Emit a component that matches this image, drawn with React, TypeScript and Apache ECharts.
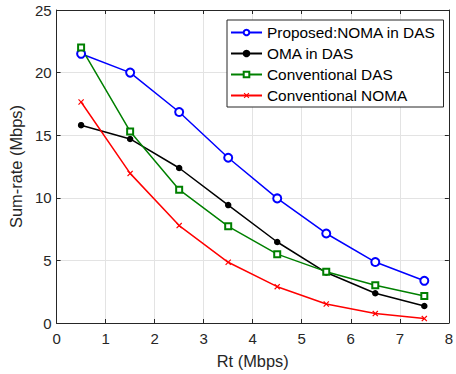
import React, { useEffect, useRef } from "react";
import * as echarts from "echarts";

const rtValues = [0.5, 1.5, 2.5, 3.5, 4.5, 5.5, 6.5, 7.5];
const proposedNomaDas = [21.5, 20.0, 16.85, 13.2, 9.95, 7.15, 4.87, 3.37];
const omaDas = [15.8, 14.7, 12.38, 9.42, 6.47, 4.03, 2.38, 1.36];
const conventionalDas = [22.0, 15.3, 10.65, 7.72, 5.5, 4.1, 3.02, 2.15];
const conventionalNoma = [17.65, 11.95, 7.78, 4.85, 2.9, 1.52, 0.75, 0.35];
const seriesNames = ["Proposed:NOMA in DAS", "OMA in DAS", "Conventional DAS", "Conventional NOMA"];

const FONT = "Liberation Sans, Arial, Helvetica, sans-serif";
const X_MARK = "path://M0,1.4L1.4,0L5,3.6L8.6,0L10,1.4L6.4,5L10,8.6L8.6,10L5,6.4L1.4,10L0,8.6L3.6,5Z";

function pairs(ys: number[]) {
  return rtValues.map((x, i) => [x, ys[i]]);
}

export default function App() {
  const ref = useRef<HTMLDivElement>(null);
  useEffect(() => {
    if (!ref.current) return;
    const chart = echarts.init(ref.current, undefined, { renderer: "svg" });
    const axisLine = { show: true, onZero: false, lineStyle: { color: "#262626", width: 1 } };
    const tick = { show: true, inside: true, length: 4, lineStyle: { color: "#262626" } };
    const mk = (name: string, data: number[], color: string, symbol: string, size: number, extra: any = {}) => ({
      name,
      type: "line",
      data: pairs(data),
      symbol,
      symbolSize: size,
      showSymbol: true,
      lineStyle: { color, width: 1.5 },
      itemStyle: { color, borderColor: color, borderWidth: 1.5, ...extra },
      emphasis: { disabled: true },
      z: 3,
    });
    chart.setOption({
      animation: false,
      backgroundColor: "#ffffff",
      textStyle: { fontFamily: FONT },
      grid: { left: 50, right: 3, top: 10, bottom: 51, containLabel: false },
      legend: {
        orient: "vertical",
        left: 227,
        top: 20,
        padding: [5, 8, 4, 3],
        itemGap: 6,
        itemWidth: 31,
        itemHeight: 7,
        backgroundColor: "#ffffff",
        borderColor: "#262626",
        borderWidth: 1,
        borderRadius: 0,
        textStyle: { fontSize: 15.4, color: "#000", fontFamily: FONT },
        data: seriesNames,
      },
      xAxis: [
        {
          type: "value",
          min: 0,
          max: 8,
          interval: 1,
          name: "Rt (Mbps)",
          nameLocation: "middle",
          nameGap: 30,
          nameTextStyle: { fontSize: 16.4, color: "#262626", fontFamily: FONT },
          axisLine,
          axisTick: tick,
          axisLabel: { fontSize: 15, color: "#262626", margin: 8, fontFamily: FONT },
          splitLine: { show: true, lineStyle: { color: "#e3e3e3", width: 1 } },
        },
        {
          type: "value",
          position: "top",
          min: 0,
          max: 8,
          interval: 1,
          axisLine,
          axisTick: tick,
          axisLabel: { show: false },
          splitLine: { show: false },
        },
      ],
      yAxis: [
        {
          type: "value",
          min: 0,
          max: 25,
          interval: 5,
          name: "Sum-rate (Mbps)",
          nameLocation: "middle",
          nameGap: 26,
          nameTextStyle: { fontSize: 16.4, color: "#262626", fontFamily: FONT },
          axisLine,
          axisTick: tick,
          axisLabel: { fontSize: 15, color: "#262626", margin: 5, fontFamily: FONT },
          splitLine: { show: true, lineStyle: { color: "#e3e3e3", width: 1 } },
        },
        {
          type: "value",
          position: "right",
          min: 0,
          max: 25,
          interval: 5,
          axisLine,
          axisTick: tick,
          axisLabel: { show: false },
          splitLine: { show: false },
        },
      ],
      series: [
        mk(seriesNames[0], proposedNomaDas, "#0000ff", "emptyCircle", 8),
        mk(seriesNames[1], omaDas, "#000000", "circle", 5),
        mk(seriesNames[2], conventionalDas, "#008000", "emptyRect", 6),
        mk(seriesNames[3], conventionalNoma, "#ff0000", X_MARK, 6, { borderWidth: 0 }),
      ],
    });
    return () => chart.dispose();
  }, []);
  return <div ref={ref} style={{ width: 456, height: 374, position: "absolute", left: 0, top: 0 }} />;
}
